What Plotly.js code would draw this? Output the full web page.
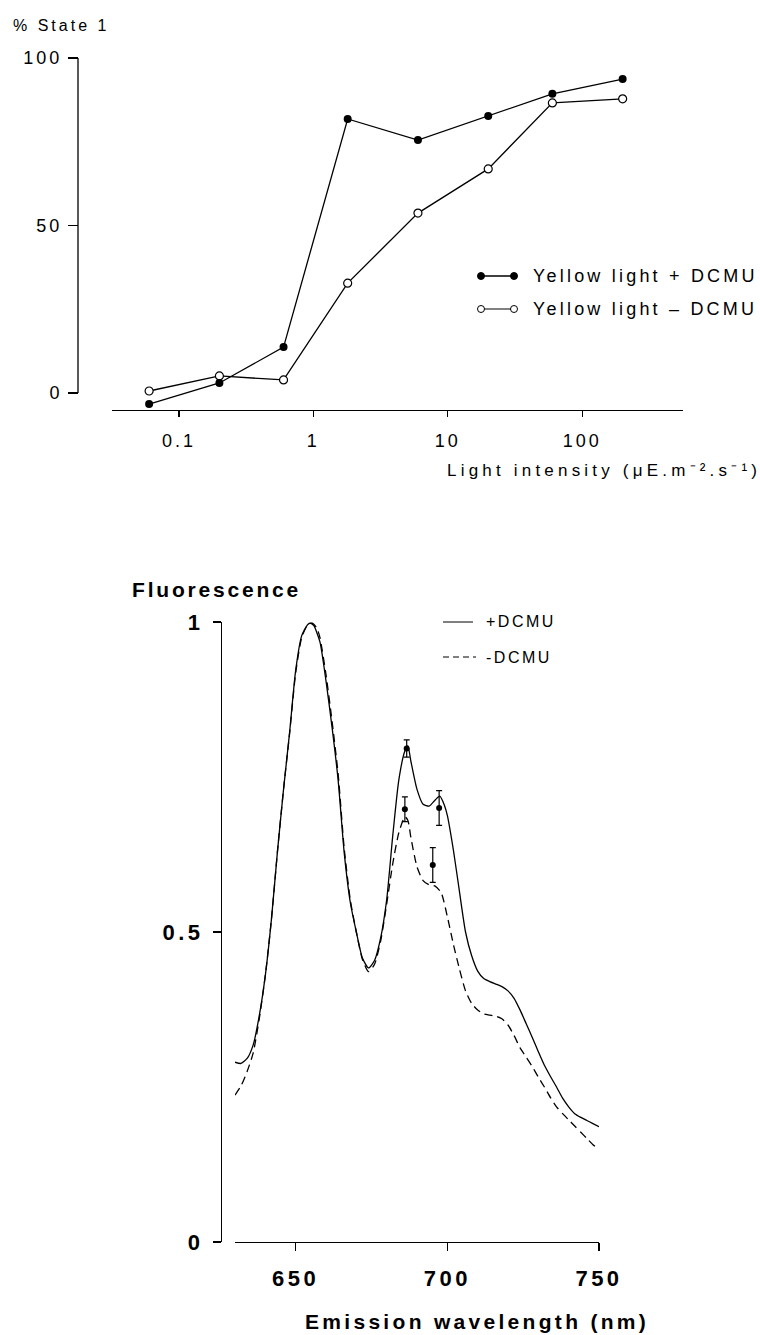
<!DOCTYPE html>
<html>
<head>
<meta charset="utf-8">
<script src="https://cdn.plot.ly/plotly-3.0.1.min.js"></script>
<style>
  html, body { margin: 0; padding: 0; background: #fff; }
  #chart { width: 760px; height: 1335px; }
  .xtick text, .ytick text { letter-spacing: 3px; }
  .x2tick text, .y2tick text { letter-spacing: 3.5px; }
</style>
</head>
<body>
<div id="chart"></div>
<script>
// ---------- Top panel data: % State 1 vs light intensity ----------
const intensity = [0.06, 0.2, 0.6, 1.8, 6, 20, 60, 200];
const state1PlusDCMU = [-3.3, 3.0, 13.7, 81.8, 75.5, 82.7, 89.3, 93.7];
const state1MinusDCMU = [0.6, 5.1, 3.9, 32.8, 53.7, 66.9, 86.6, 87.8];
const topXTickVals = [0.1, 1, 10, 100];
const topXTickText = ['0.1', '1', '10', '100'];
const topYTickVals = [0, 50, 100];
const topYTickText = ['0', '50', '100'];

// ---------- Bottom panel data: fluorescence emission spectra ----------
const wavelengthPlus = [630, 632, 634, 636, 638, 640, 642, 644, 646, 648, 650, 652, 654, 655, 656, 658, 660, 662, 664, 666, 668, 670, 672, 674, 676, 678, 680, 682, 684, 686, 687, 688, 690, 692, 694, 696, 697.5, 699, 700, 702, 704, 706, 708, 710, 712, 714, 716, 718, 720, 722, 724, 726, 728, 730, 732, 734, 736, 738, 740, 742, 744, 746, 748, 750];
const fluorPlus = [0.290, 0.288, 0.296, 0.318, 0.365, 0.430, 0.520, 0.630, 0.730, 0.822, 0.922, 0.978, 0.996, 0.998, 0.994, 0.968, 0.905, 0.830, 0.745, 0.628, 0.548, 0.500, 0.458, 0.442, 0.454, 0.490, 0.552, 0.655, 0.745, 0.792, 0.800, 0.775, 0.730, 0.706, 0.703, 0.713, 0.719, 0.705, 0.688, 0.632, 0.565, 0.500, 0.462, 0.437, 0.425, 0.420, 0.416, 0.412, 0.405, 0.393, 0.374, 0.352, 0.330, 0.307, 0.285, 0.267, 0.250, 0.232, 0.218, 0.207, 0.201, 0.196, 0.191, 0.186];
const wavelengthMinus = [630, 632, 634, 636, 638, 640, 642, 644, 646, 648, 650, 652, 654, 655.5, 657, 658, 660, 662, 664, 666, 668, 670, 672, 674, 676, 678, 680, 682, 684, 686, 687, 688, 690, 692, 694, 696, 698, 700, 702, 704, 706, 708, 710, 712, 714, 716, 718, 720, 722, 724, 726, 728, 730, 732, 734, 736, 738, 740, 742, 744, 746, 748, 750];
const fluorMinus = [0.237, 0.252, 0.275, 0.305, 0.360, 0.430, 0.520, 0.630, 0.730, 0.820, 0.918, 0.975, 0.996, 0.998, 0.990, 0.975, 0.915, 0.840, 0.755, 0.635, 0.552, 0.500, 0.456, 0.436, 0.448, 0.485, 0.545, 0.610, 0.660, 0.686, 0.680, 0.652, 0.605, 0.583, 0.576, 0.574, 0.563, 0.525, 0.480, 0.440, 0.405, 0.385, 0.374, 0.368, 0.366, 0.364, 0.360, 0.350, 0.333, 0.313, 0.298, 0.283, 0.266, 0.250, 0.233, 0.218, 0.207, 0.197, 0.187, 0.177, 0.167, 0.157, 0.150];
const errPlusWl = [686.6, 697.3];
const errPlusVal = [0.796, 0.700];
const errPlusSd = [0.014, 0.028];
const errMinusWl = [686.0, 695.2];
const errMinusVal = [0.698, 0.608];
const errMinusSd = [0.020, 0.028];
const botXTickVals = [650, 700, 750];
const botXTickText = ['650', '700', '750'];
const botYTickVals = [0, 0.5, 1];
const botYTickText = ['0', '0.5', '1'];

// ---------- helpers ----------
const W = 760, H = 1335;
const px = v => v / W;
const py = v => 1 - v / H;
const FONT = 'Liberation Sans, Arial, Helvetica, sans-serif';
const sp = (t, s) => '<span style="letter-spacing:' + s + 'px">' + t + '</span>';

const traces = [
  {
    x: intensity, y: state1MinusDCMU, xaxis: 'x', yaxis: 'y',
    mode: 'lines+markers', name: 'Yellow light - DCMU',
    line: {color: '#000', width: 1.3},
    marker: {symbol: 'circle', size: 8, color: '#fff', line: {color: '#000', width: 1.2}},
    cliponaxis: false
  },
  {
    x: intensity, y: state1PlusDCMU, xaxis: 'x', yaxis: 'y',
    mode: 'lines+markers', name: 'Yellow light + DCMU',
    line: {color: '#000', width: 1.3},
    marker: {symbol: 'circle', size: 8, color: '#000'},
    cliponaxis: false
  },
  {
    x: wavelengthPlus, y: fluorPlus, xaxis: 'x2', yaxis: 'y2',
    mode: 'lines', name: '+DCMU',
    line: {color: '#000', width: 1.3, shape: 'spline', smoothing: 0.6}
  },
  {
    x: wavelengthMinus, y: fluorMinus, xaxis: 'x2', yaxis: 'y2',
    mode: 'lines', name: '-DCMU',
    line: {color: '#000', width: 1.3, dash: '8px,5px', shape: 'spline', smoothing: 0.6}
  },
  {
    x: errPlusWl, y: errPlusVal, xaxis: 'x2', yaxis: 'y2', mode: 'markers',
    marker: {size: 6, color: '#000'},
    error_y: {type: 'data', array: errPlusSd, visible: true, color: '#000', thickness: 1.2, width: 3},
    cliponaxis: false
  },
  {
    x: errMinusWl, y: errMinusVal, xaxis: 'x2', yaxis: 'y2', mode: 'markers',
    marker: {size: 6, color: '#000'},
    error_y: {type: 'data', array: errMinusSd, visible: true, color: '#000', thickness: 1.2, width: 3},
    cliponaxis: false
  }
];

const axBase = {
  showgrid: false, zeroline: false, ticks: 'outside', tickcolor: '#000',
  linecolor: '#000', fixedrange: true
};

const shapes = [
  // top y axis line (only spans 0..100)
  {type: 'line', xref: 'paper', yref: 'y', x0: px(78), x1: px(78), y0: 0, y1: 100, line: {color: '#000', width: 1.3}},
  // top legend samples
  {type: 'line', xref: 'paper', yref: 'paper', x0: px(481), x1: px(514), y0: py(276), y1: py(276), line: {color: '#000', width: 1.5}},
  {type: 'circle', xref: 'paper', yref: 'paper', x0: px(477.5), x1: px(484.5), y0: py(279.5), y1: py(272.5), fillcolor: '#000', line: {color: '#000', width: 1}},
  {type: 'circle', xref: 'paper', yref: 'paper', x0: px(510.5), x1: px(517.5), y0: py(279.5), y1: py(272.5), fillcolor: '#000', line: {color: '#000', width: 1}},
  {type: 'line', xref: 'paper', yref: 'paper', x0: px(481), x1: px(514), y0: py(309), y1: py(309), line: {color: '#000', width: 1}},
  {type: 'circle', xref: 'paper', yref: 'paper', x0: px(477.5), x1: px(484.5), y0: py(312.5), y1: py(305.5), fillcolor: '#fff', line: {color: '#000', width: 1}},
  {type: 'circle', xref: 'paper', yref: 'paper', x0: px(510.5), x1: px(517.5), y0: py(312.5), y1: py(305.5), fillcolor: '#fff', line: {color: '#000', width: 1}},
  // bottom legend samples
  {type: 'line', xref: 'paper', yref: 'paper', x0: px(443), x1: px(473), y0: py(622), y1: py(622), line: {color: '#000', width: 1}},
  {type: 'line', xref: 'paper', yref: 'paper', x0: px(443), x1: px(476), y0: py(657), y1: py(657), line: {color: '#000', width: 1.2, dash: '6px,4px'}}
];

const annotations = [
  {text: sp('% State 1', 3), x: px(11), y: py(25), xref: 'paper', yref: 'paper', xanchor: 'left', yanchor: 'middle', showarrow: false, font: {family: FONT, size: 16, color: '#000'}},
  {text: sp('Light intensity (μE.m⁻².s⁻¹)', 4.2), x: px(445), y: py(471), xref: 'paper', yref: 'paper', xanchor: 'left', yanchor: 'middle', showarrow: false, font: {family: FONT, size: 17, color: '#000'}},
  {text: sp('Yellow light + DCMU', 3.2), x: px(531), y: py(276), xref: 'paper', yref: 'paper', xanchor: 'left', yanchor: 'middle', showarrow: false, font: {family: FONT, size: 18, color: '#000'}},
  {text: sp('Yellow light – DCMU', 3.2), x: px(531), y: py(309), xref: 'paper', yref: 'paper', xanchor: 'left', yanchor: 'middle', showarrow: false, font: {family: FONT, size: 18, color: '#000'}},
  {text: sp('Fluorescence', 2.8), x: px(216), y: py(589), xref: 'paper', yref: 'paper', xanchor: 'center', yanchor: 'middle', showarrow: false, font: {family: FONT, size: 21, color: '#000', weight: 700}},
  {text: sp('Emission wavelength (nm)', 3.3), x: px(477), y: py(1321), xref: 'paper', yref: 'paper', xanchor: 'center', yanchor: 'middle', showarrow: false, font: {family: FONT, size: 21, color: '#000', weight: 700}},
  {text: sp('+DCMU', 2.5), x: px(484), y: py(622), xref: 'paper', yref: 'paper', xanchor: 'left', yanchor: 'middle', showarrow: false, font: {family: FONT, size: 16, color: '#000'}},
  {text: sp('-DCMU', 2.5), x: px(484), y: py(657), xref: 'paper', yref: 'paper', xanchor: 'left', yanchor: 'middle', showarrow: false, font: {family: FONT, size: 16, color: '#000'}}
];

const layout = {
  width: W, height: H,
  margin: {l: 0, r: 0, t: 0, b: 0},
  paper_bgcolor: '#fff', plot_bgcolor: 'rgba(0,0,0,0)',
  showlegend: false,
  font: {family: FONT, color: '#000'},
  xaxis: Object.assign({}, axBase, {
    type: 'log', domain: [px(112), px(683)], range: [-1.498, 2.75], anchor: 'y',
    showline: true, linewidth: 1.3, ticklen: 6, tickwidth: 1.2,
    tickvals: topXTickVals, ticktext: topXTickText, ticklabelstandoff: 8,
    tickfont: {family: FONT, size: 18, color: '#000'}
  }),
  yaxis: Object.assign({}, axBase, {
    domain: [1 - 410 / H, 1 - 58 / H], range: [-5.07, 100], anchor: 'free', position: px(78),
    showline: false, ticklen: 10, tickwidth: 1.2,
    tickvals: topYTickVals, ticktext: topYTickText, ticklabelstandoff: 2,
    tickfont: {family: FONT, size: 18, color: '#000'}
  }),
  xaxis2: Object.assign({}, axBase, {
    domain: [px(235), px(599)], range: [630, 750], anchor: 'y2',
    showline: true, linewidth: 1.3, ticklen: 8, tickwidth: 1.2,
    tickvals: botXTickVals, ticktext: botXTickText, ticklabelstandoff: 8,
    tickfont: {family: FONT, size: 22, color: '#000', weight: 700}
  }),
  yaxis2: Object.assign({}, axBase, {
    domain: [1 - 1242 / H, 1 - 622 / H], range: [0, 1], anchor: 'free', position: px(221),
    showline: true, linewidth: 1.3, ticklen: 8, tickwidth: 1.2,
    tickvals: botYTickVals, ticktext: botYTickText, ticklabelstandoff: 5,
    tickfont: {family: FONT, size: 22, color: '#000', weight: 700}
  }),
  shapes: shapes,
  annotations: annotations
};

Plotly.newPlot('chart', traces, layout, {staticPlot: true, displayModeBar: false});
</script>
</body>
</html>
